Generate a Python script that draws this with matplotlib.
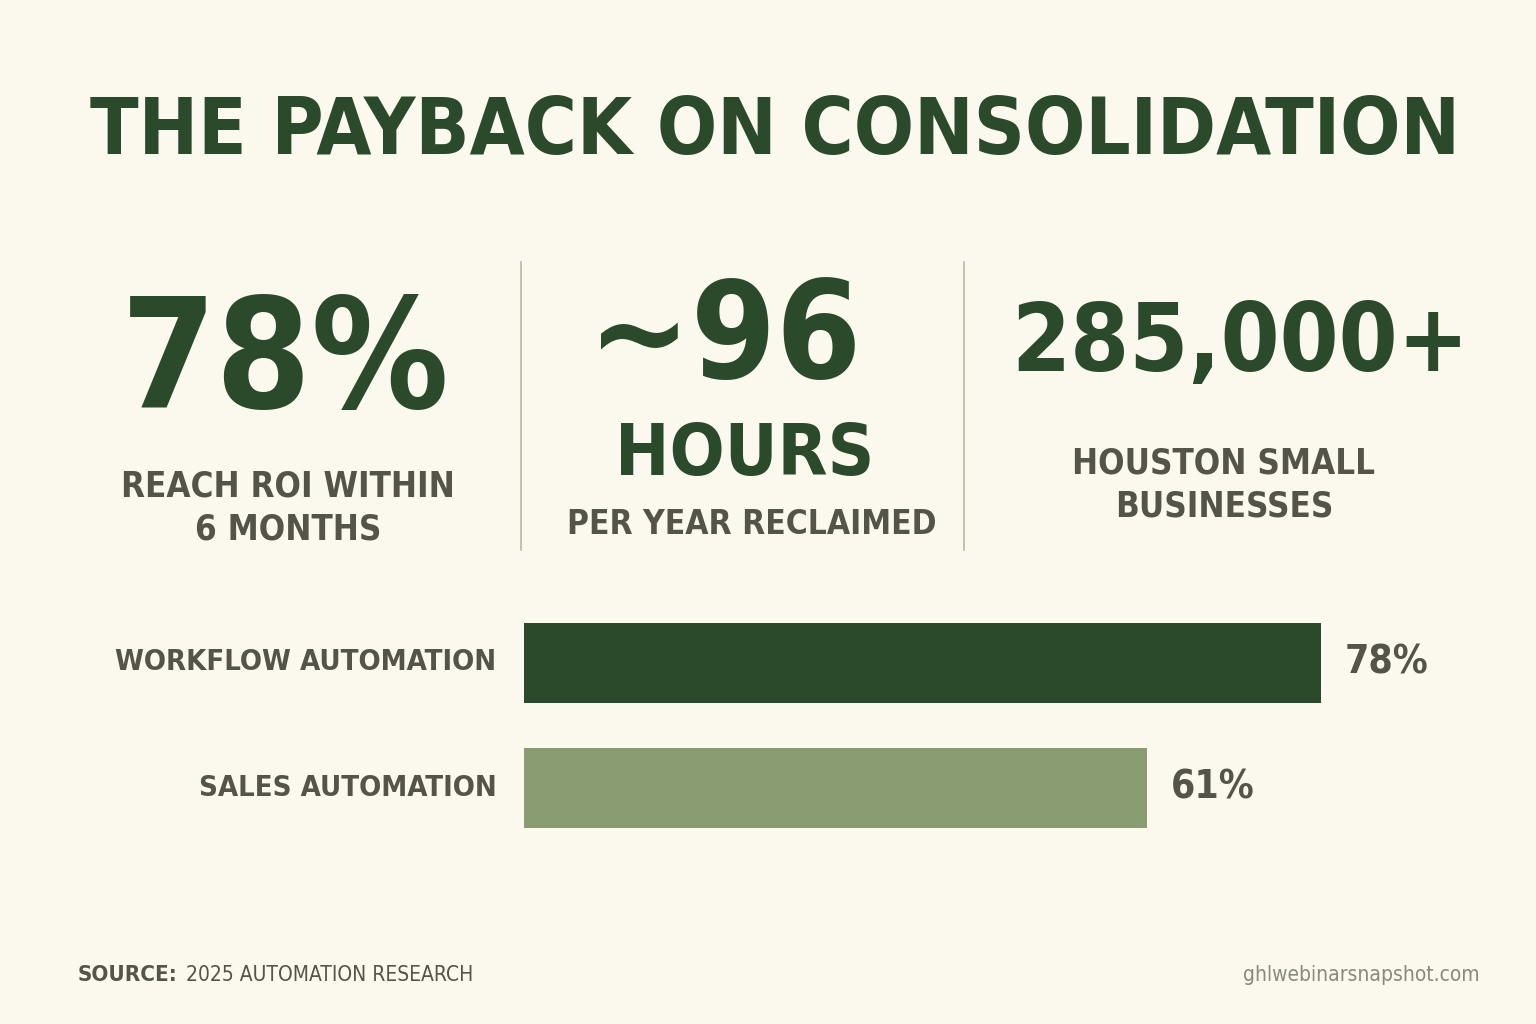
import matplotlib.pyplot as plt

title = "THE PAYBACK ON CONSOLIDATION"
stat_values = ["78%", "~96", "285,000+"]
stat_labels = ["REACH ROI WITHIN\n6 MONTHS", "PER YEAR RECLAIMED", "HOUSTON SMALL\nBUSINESSES"]
categories = ["WORKFLOW AUTOMATION", "SALES AUTOMATION"]
values = [78, 61]

bg = "#fbf8ee"
dark = "#2b4a2b"
light = "#8a9d72"
grey = "#55544a"
FONT = "DejaVu Sans"

fig = plt.figure(figsize=(15.36, 10.24), dpi=100, facecolor=bg)

def t(x, y, s, size, color, weight="bold", ha="center", **kw):
    fig.text(x / 1536, 1 - y / 1024, s, fontsize=size, color=color, family=FONT,
             fontweight=weight, fontstretch="condensed", ha=ha, va="center", **kw)

t(775, 132, title, 57, dark)

# stats
t(285, 365, stat_values[0], 110, dark)
t(288, 508, stat_labels[0], 25, grey, linespacing=1.3)
t(725, 340, stat_values[1], 98, dark)
t(745, 455, "HOURS", 52, dark)
t(752, 525, stat_labels[1], 24, grey)
t(1240, 345, stat_values[2], 68, dark)
t(1224, 485, stat_labels[2], 25, grey, linespacing=1.3)
for xp in (521, 964):
    fig.add_artist(plt.Line2D([xp / 1536] * 2, [1 - 262 / 1024, 1 - 550 / 1024], color="#b9b8a6", lw=1.2))

# bars
ax = fig.add_axes([524 / 1536, 1 - 850 / 1024, 797 / 1536, 250 / 1024])
ax.set_facecolor(bg)
ypos = [0, 1]
ax.barh(ypos, values, height=0.64, color=[dark, light])
ax.set_xlim(0, 78)
ax.set_ylim(1.5, -0.5)
ax.axis("off")
for y, v, c in zip(ypos, values, categories):
    ax.text(v + 2.3, y, f"{v}%", fontsize=28, color=grey, family=FONT, fontweight="bold",
            fontstretch="condensed", va="center", ha="left")
    ax.text(-2.7, y, c, fontsize=21, color=grey, family=FONT, fontweight="bold",
            fontstretch="condensed", va="center", ha="right")

t(78, 975, "SOURCE:", 16, grey, ha="left")
t(186, 975, "2025 AUTOMATION RESEARCH", 15, grey, weight="normal", ha="left")
t(1480, 975, "ghlwebinarsnapshot.com", 15, "#8a897d", weight="normal", ha="right")

fig.savefig("out.png", dpi=100, facecolor=bg)
